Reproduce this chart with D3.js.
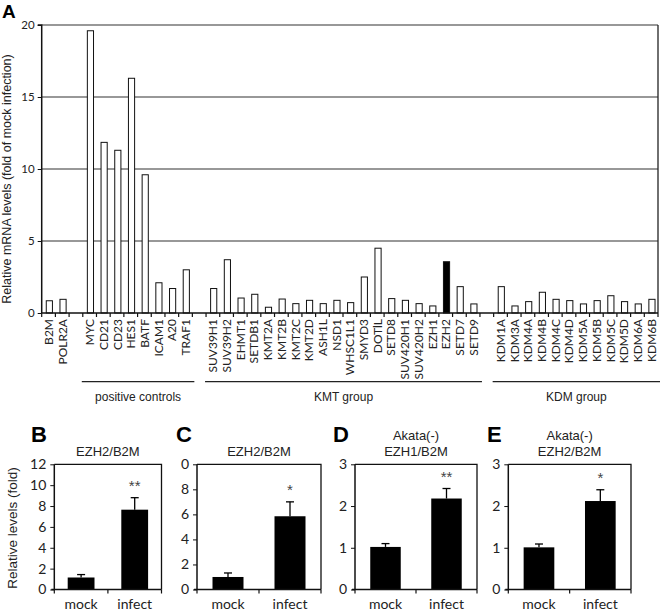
<!DOCTYPE html>
<html><head><meta charset="utf-8">
<script src="https://cdn.jsdelivr.net/npm/d3@7"></script>
<style>body{margin:0;background:#fff}svg{display:block}</style>
</head><body><svg id="c" width="660" height="611"></svg>
<script>
// ---- Panel A data ----
const categories = ["B2M","POLR2A","",
 "MYC","CD21","CD23","HES1","BATF","ICAM1","A20","TRAF1","",
 "SUV39H1","SUV39H2","EHMT1","SETDB1","KMT2A","KMT2B","KMT2C","KMT2D","ASH1L","NSD1","WHSC1L1","SMYD3","DOTlL","SETD8","SUV420H1","SUV420H2","EZH1","EZH2","SETD7","SETD9","",
 "KDM1A","KDM3A","KDM4A","KDM4B","KDM4C","KDM4D","KDM5A","KDM5B","KDM5C","KDM5D","KDM6A","KDM6B"];
const values = [0.85,0.95,null,
 19.6,11.85,11.3,16.3,9.6,2.1,1.7,3.0,null,
 1.7,3.7,1.04,1.3,0.4,0.97,0.65,0.88,0.65,0.88,0.72,2.5,4.5,1.0,0.88,0.65,0.49,3.56,1.83,0.63,null,
 1.83,0.49,0.79,1.44,0.95,0.86,0.63,0.86,1.2,0.79,0.63,0.95];
const highlighted = ["EZH2"];
const yTicksA = [0,5,10,15,20];
const groups = [
 {name:"positive controls", from:"MYC", to:"TRAF1"},
 {name:"KMT group", from:"SUV39H1", to:"SETD9"},
 {name:"KDM group", from:"KDM1A", to:"KDM6B"}];

// ---- Panels B-E data ----
const xCats = ["mock","infect"];
const panelB = {letter:"B", title:["EZH2/B2M"], means:[1.15,7.65], errs:[0.28,1.15], sig:"**", ymax:12, ticks:[0,2,4,6,8,10,12], tickLabels:["0","2","4","6","8","10","12"]};
const panelC = {letter:"C", title:["EZH2/B2M"], means:[1.0,5.85], errs:[0.32,1.15], sig:"*", ymax:10, ticks:[0,2,4,6,8,10], tickLabels:["0","2","4","6","8","0"]};
const panelD = {letter:"D", title:["Akata(-)","EZH1/B2M"], means:[1.02,2.18], errs:[0.08,0.24], sig:"**", ymax:3, ticks:[0,1,2,3], tickLabels:["0","1","2","3"]};
const panelE = {letter:"E", title:["Akata(-)","EZH2/B2M"], means:[1.01,2.12], errs:[0.08,0.27], sig:"*", ymax:3, ticks:[0,1,2,3], tickLabels:["0","1","2","3"]};

const svg = d3.select("#c");
const tickFont = "Lato, 'Open Sans', sans-serif";
const arial = "'Liberation Sans', Arial, sans-serif";

// ===== Panel A =====
const A = {l:41.7, r:658, t:25, b:313};
const xA = d3.scaleBand().domain(d3.range(categories.length)).range([A.l, A.r]).paddingInner(0).paddingOuter(0);
const yA = d3.scaleLinear().domain([0,20]).range([A.b, A.t]);
const gA = svg.append("g");

gA.selectAll("line.grid").data(yTicksA.filter(d=>d>0)).join("line")
 .attr("x1",A.l).attr("x2",A.r).attr("y1",d=>yA(d)).attr("y2",d=>yA(d))
 .attr("stroke","#333").attr("stroke-width",1.2);
gA.append("line").attr("x1",A.r).attr("x2",A.r).attr("y1",A.t).attr("y2",A.b).attr("stroke","#222").attr("stroke-width",1.3);

const bw = xA.bandwidth()*0.45;
gA.selectAll("rect.bar").data(categories.map((c,i)=>({c,i,v:values[i]})).filter(d=>d.v!=null)).join("rect")
 .attr("x",d=>xA(d.i)+xA.bandwidth()/2-bw/2+0.8).attr("width",bw)
 .attr("y",d=>yA(d.v)).attr("height",d=>yA(0)-yA(d.v))
 .attr("fill",d=>highlighted.includes(d.c)?"#000":"#fff")
 .attr("stroke","#111").attr("stroke-width",1);

const yAxA = d3.axisLeft(yA).tickValues(yTicksA).tickSize(4).tickPadding(3);
const gy = gA.append("g").attr("transform",`translate(${A.l},0)`).call(yAxA);
gy.select(".domain").attr("stroke","#111").attr("stroke-width",1.5).attr("d",`M-4,${A.t}H0V${A.b}`);
gy.selectAll("text").attr("font-family",tickFont).attr("font-size",11.5).attr("fill","#222");
gy.selectAll(".tick line").attr("stroke","#111");

gA.append("line").attr("x1",A.l).attr("x2",A.r).attr("y1",A.b).attr("y2",A.b).attr("stroke","#111").attr("stroke-width",1.6);
const bounds = d3.range(categories.length+1).map(i=> i<categories.length ? xA(i) : A.r);
gA.selectAll("line.xt").data(bounds).join("line")
 .attr("x1",d=>d).attr("x2",d=>d).attr("y1",A.b).attr("y2",A.b+4).attr("stroke","#111").attr("stroke-width",1.2);
gA.selectAll("text.xl").data(categories.map((c,i)=>({c,i})).filter(d=>d.c)).join("text")
 .attr("transform",d=>`translate(${xA(d.i)+xA.bandwidth()/2+4.5},${A.b+6}) rotate(-90)`)
 .attr("text-anchor","end").attr("font-family",tickFont).attr("font-size",12).attr("fill","#222")
 .text(d=>d.c);

groups.forEach(g=>{
  const i0 = categories.indexOf(g.from), i1 = categories.indexOf(g.to);
  const x0 = xA(i0)-1, x1 = xA(i1)+xA.bandwidth()+2;
  gA.append("line").attr("x1",x0).attr("x2",x1).attr("y1",381.7).attr("y2",381.7).attr("stroke","#222").attr("stroke-width",1.2);
  gA.append("text").attr("x",(x0+x1)/2).attr("y",401).attr("text-anchor","middle")
   .attr("font-family",arial).attr("font-size",12).attr("fill","#222").text(g.name);
});

gA.append("text").attr("transform",`translate(11,${(A.t+A.b)/2+10}) rotate(-90)`).attr("text-anchor","middle")
 .attr("font-family",arial).attr("font-size",12.5).attr("fill","#222").text("Relative mRNA levels (fold of mock infection)");
svg.append("text").attr("x",2).attr("y",18).attr("font-family",arial).attr("font-weight","bold").attr("font-size",19).text("A");

// ===== Small panels =====
function panel(p, l, r, letterX){
  const t = 464.3, b = 589.5;
  const g = svg.append("g");
  const x = d3.scaleBand().domain(xCats).range([l,r]).paddingInner(0.5).paddingOuter(0.25);
  const y = d3.scaleLinear().domain([0,p.ymax]).range([b,t]);
  g.append("path").attr("d",`M${l},${t}H${r}V${b}`).attr("fill","none").attr("stroke","#111").attr("stroke-width",1.3);
  const ed = xCats.map((c,i)=>({c,m:p.means[i],e:p.errs[i]}));
  g.selectAll("rect").data(ed).join("rect")
   .attr("x",d=>x(d.c)).attr("width",x.bandwidth()).attr("y",d=>y(d.m)).attr("height",d=>y(0)-y(d.m)).attr("fill","#000");
  const cx = d=>x(d.c)+x.bandwidth()/2;
  g.selectAll("line.ev").data(ed).join("line").attr("x1",cx).attr("x2",cx).attr("y1",d=>y(d.m)).attr("y2",d=>y(d.m+d.e)).attr("stroke","#000").attr("stroke-width",1.3);
  g.selectAll("line.eh").data(ed).join("line").attr("x1",d=>cx(d)-4).attr("x2",d=>cx(d)+4).attr("y1",d=>y(d.m+d.e)).attr("y2",d=>y(d.m+d.e)).attr("stroke","#000").attr("stroke-width",1.3);
  const inf = ed[1];
  g.append("text").attr("x",cx(inf)).attr("y",y(inf.m+inf.e)-7).attr("text-anchor","middle")
   .attr("font-family",arial).attr("font-size",15).attr("fill","#444").text(p.sig);
  const ya = d3.axisLeft(y).tickValues(p.ticks).tickFormat((d,i)=>p.tickLabels[i]).tickSize(4).tickPadding(4);
  const gy = g.append("g").attr("transform",`translate(${l},0)`).call(ya);
  gy.select(".domain").attr("stroke","#111").attr("stroke-width",1.5).attr("d",`M0,${t}V${b}`);
  gy.selectAll(".tick line").attr("stroke","#111");
  gy.selectAll("text").attr("font-family",tickFont).attr("font-size",14).attr("fill","#222");
  g.append("line").attr("x1",l-3).attr("x2",r).attr("y1",b).attr("y2",b).attr("stroke","#111").attr("stroke-width",1.5);
  const bnd = [l,(l+r)/2,r];
  g.selectAll("line.xt").data(bnd).join("line").attr("x1",d=>d).attr("x2",d=>d).attr("y1",b).attr("y2",b+4).attr("stroke","#111").attr("stroke-width",1.2);
  g.selectAll("text.xl").data(xCats).join("text").attr("x",d=>x(d)+x.bandwidth()/2).attr("y",609)
   .attr("text-anchor","middle").attr("font-family",tickFont).attr("font-size",14).attr("fill","#222").text(d=>d);
  const tc = (l+r)/2;
  p.title.forEach((s,i)=>{
    g.append("text").attr("x",tc).attr("y",456 - (p.title.length-1-i)*16).attr("text-anchor","middle")
     .attr("font-family",arial).attr("font-size",13).attr("fill","#222").text(s);
  });
  svg.append("text").attr("x",letterX).attr("y",442).attr("font-family",arial).attr("font-weight","bold").attr("font-size",22).text(p.letter);
}
panel(panelB, 54.3, 161.5, 31);
panel(panelC, 197, 321, 176);
panel(panelD, 355, 477, 333);
panel(panelE, 508.3, 631, 487);

svg.append("text").attr("transform","translate(17,528) rotate(-90)").attr("text-anchor","middle")
 .attr("font-family",arial).attr("font-size",13.5).attr("fill","#222").text("Relative levels (fold)");
</script></body></html>
